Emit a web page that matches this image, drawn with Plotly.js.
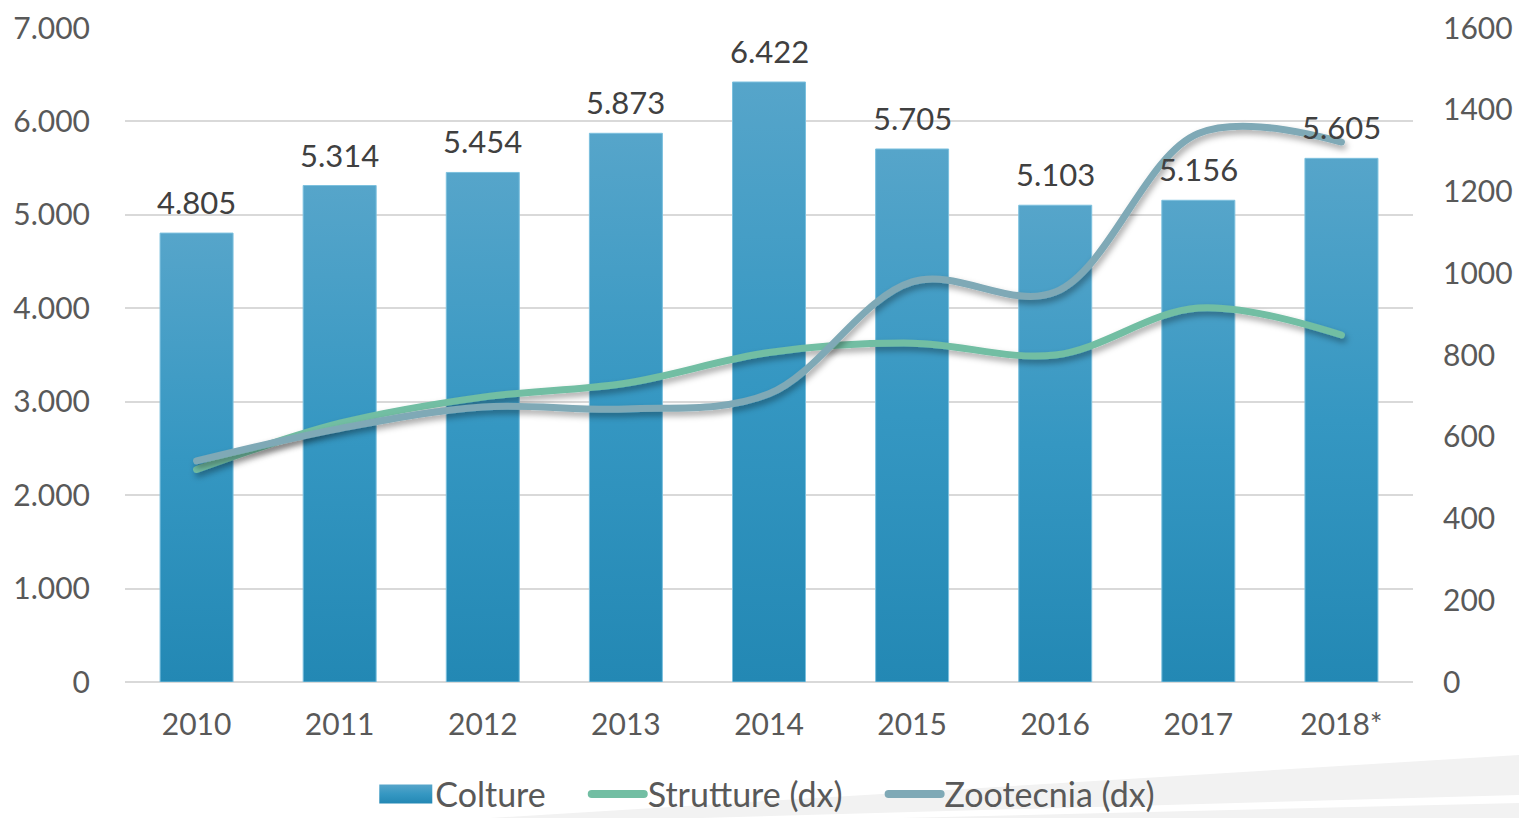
<!DOCTYPE html>
<html>
<head>
<meta charset="utf-8">
<script src="https://cdn.plot.ly/plotly-3.0.1.min.js"></script>
<style>
html,body{margin:0;padding:0;background:#fff;}
#chart{width:1519px;height:818px;}
</style>
</head>
<body>
<div id="chart"></div>
<script>
// ---- data ----
var years = ['2010','2011','2012','2013','2014','2015','2016','2017','2018*'];
var colture = [4805, 5314, 5454, 5873, 6422, 5705, 5103, 5156, 5605];
var strutture = [520, 633, 697, 731, 806, 829, 800, 915, 849];
var zootecnia = [541, 620, 673, 668, 705, 979, 954, 1342, 1321];
var leftTicks = [0, 1000, 2000, 3000, 4000, 5000, 6000, 7000];
var rightTicks = [0, 200, 400, 600, 800, 1000, 1200, 1400, 1600];

var FONT = 'Lato, "Open Sans", sans-serif';
var TXT = '#595959';

function fmtIt(v){ return String(v).replace(/\B(?=(\d{3})+(?!\d))/g, '.'); }

var traces = [
  {
    type: 'bar', name: 'Colture', x: years, y: colture,
    marker: {color: '#3697c1', line: {color: '#7cc0de', width: 1}},
    yaxis: 'y'
  },
  {
    type: 'scatter', mode: 'lines', name: 'Strutture (dx)', x: years, y: strutture,
    line: {color: '#72bea3', width: 7, shape: 'spline', smoothing: 1},
    yaxis: 'y2'
  },
  {
    type: 'scatter', mode: 'lines', name: 'Zootecnia (dx)', x: years, y: zootecnia,
    line: {color: '#7fa9b6', width: 7, shape: 'spline', smoothing: 1},
    yaxis: 'y2'
  }
];

// category axis: annotations positioned by category index
var annotations = years.map(function(yr, i){
  return {
    x: i, y: colture[i], xref: 'x', yref: 'y',
    text: fmtIt(colture[i]), showarrow: false,
    yanchor: 'bottom', yshift: 10,
    font: {family: FONT, size: 31, color: '#404040'}
  };
});

var layout = {
  width: 1519, height: 818,
  margin: {l: 125, r: 106, t: 28, b: 136, autoexpand: false},
  paper_bgcolor: '#ffffff', plot_bgcolor: '#ffffff',
  separators: ',.',
  font: {family: FONT, color: TXT, size: 30},
  showlegend: true,
  bargap: 0.49,
  hovermode: false,
  xaxis: {
    type: 'category', categoryarray: years, categoryorder: 'array',
    range: [-0.5, years.length - 0.5],
    showgrid: false, zeroline: false, showline: false,
    ticks: 'outside', ticklen: 16, tickcolor: 'rgba(0,0,0,0)',
    tickfont: {family: FONT, size: 30, color: TXT}
  },
  yaxis: {
    range: [0, 7000], tickvals: leftTicks, tickformat: ',d',
    showgrid: true, gridcolor: '#d9d9d9', gridwidth: 2,
    zeroline: true, zerolinecolor: '#d9d9d9', zerolinewidth: 2,
    showline: false, ticks: 'outside', ticklen: 28, tickcolor: 'rgba(0,0,0,0)',
    tickfont: {family: FONT, size: 30, color: TXT}
  },
  yaxis2: {
    range: [0, 1600], tickvals: rightTicks, tickformat: 'd',
    overlaying: 'y', side: 'right', showgrid: false, zeroline: false, showline: false,
    ticks: 'outside', ticklen: 23, tickcolor: 'rgba(0,0,0,0)',
    tickfont: {family: FONT, size: 30, color: TXT}
  },
  legend: {
    orientation: 'h', x: 0.5, xanchor: 'center', y: -0.172, yanchor: 'middle',
    font: {family: FONT, size: 34, color: TXT},
    bgcolor: 'rgba(0,0,0,0)'
  },
  annotations: annotations,
  shapes: [
    {type: 'path', xref: 'paper', yref: 'paper', layer: 'below',
     path: 'M 0.283 -0.208 L 1.083 -0.1116 L 1.083 -0.208 Z',
     fillcolor: '#f2f2f2', line: {width: 0}},
    {type: 'path', xref: 'paper', yref: 'paper', layer: 'below',
     path: 'M 0.4464 -0.208 L 1.083 -0.1728 L 1.083 -0.185 L 0.6017 -0.208 Z',
     fillcolor: '#ffffff', line: {width: 0}}
  ]
};

Plotly.newPlot('chart', traces, layout, {staticPlot: true, displayModeBar: false}).then(function(gd){
  var svg = gd.querySelector('svg.main-svg');
  var ns = 'http://www.w3.org/2000/svg';
  var defs = svg.querySelector('defs') || svg.insertBefore(document.createElementNS(ns, 'defs'), svg.firstChild);
  var lg = document.createElementNS(ns, 'linearGradient');
  lg.setAttribute('id', 'barGrad');
  lg.setAttribute('x1', '0'); lg.setAttribute('y1', '0');
  lg.setAttribute('x2', '0'); lg.setAttribute('y2', '1');
  [['0', '#56a5ca'], ['0.5', '#3597c2'], ['1', '#2388b4']].forEach(function(s){
    var st = document.createElementNS(ns, 'stop');
    st.setAttribute('offset', s[0]); st.setAttribute('stop-color', s[1]);
    lg.appendChild(st);
  });
  defs.appendChild(lg);
  var f = document.createElementNS(ns, 'filter');
  f.setAttribute('id', 'lineShadow');
  f.setAttribute('x', '-10%'); f.setAttribute('y', '-50%');
  f.setAttribute('width', '120%'); f.setAttribute('height', '200%');
  var ds = document.createElementNS(ns, 'feDropShadow');
  ds.setAttribute('dx', '2'); ds.setAttribute('dy', '4');
  ds.setAttribute('stdDeviation', '3');
  ds.setAttribute('flood-color', '#000'); ds.setAttribute('flood-opacity', '0.35');
  f.appendChild(ds);
  defs.appendChild(f);
  gd.querySelectorAll('.barlayer .point path').forEach(function(p){
    p.style.fill = 'url(#barGrad)';
  });
  gd.querySelectorAll('.scatterlayer .js-line').forEach(function(p){
    p.style.filter = 'url(#lineShadow)';
    p.style.strokeLinecap = 'round';
  });

  // legend symbols: wide box / long lines, and custom spacing
  var legend = gd.querySelector('.infolayer .legend');
  if (!legend) return;
  var items = Array.prototype.slice.call(legend.querySelectorAll('g.traces'));
  items.forEach(function(it){
    var ln = it.querySelector('.legendlines path');
    if (ln) {
      ln.setAttribute('d', 'M-16,0H36');
      ln.style.strokeWidth = '8px';
      ln.style.strokeLinecap = 'round';
    } else {
      var paths = Array.prototype.slice.call(it.querySelectorAll('.legendpoints path, path.legendbar'));
      if (!paths.length) {
        paths = Array.prototype.slice.call(it.querySelectorAll('path')).filter(function(p){
          return !p.closest('.legendlines');
        });
      }
      paths.forEach(function(bar){
        bar.setAttribute('d', 'M-36,-9.5H17V9.5H-36Z');
        bar.style.fill = 'url(#barGrad)';
        bar.style.stroke = 'none';
      });
    }
  });
  var sb = legend.querySelector('.scrollbox');
  if (sb) sb.removeAttribute('clip-path');
  legend.removeAttribute('clip-path');
  var bg = legend.querySelector('.bg');
  if (bg) bg.style.display = 'none';
  var gap = 62, x = 0, widths = [];
  items.forEach(function(it){
    widths.push(it.querySelector('.legendtext').getBBox().width);
  });
  var ys = items.map(function(it){
    var m = /translate\(\s*[-\d.]+[ ,]+([-\d.]+)/.exec(it.getAttribute('transform') || '');
    return m ? parseFloat(m[1]) : 0;
  });
  var starts = [];
  items.forEach(function(it, i){ starts.push(x); x += 40 + widths[i] + gap; });
  var total = x - gap + 16;
  items.forEach(function(it, i){ it.setAttribute('transform', 'translate(' + starts[i] + ',' + ys[i] + ')'); });
  var lm = /translate\(\s*([-\d.]+)[ ,]+([-\d.]+)/.exec(legend.getAttribute('transform'));
  var centerX = 125 + 1288 / 2 - 2;
  legend.setAttribute('transform', 'translate(' + (centerX - total / 2 + 16) + ',' + (lm ? lm[2] : 780) + ')');
});
</script>
</body>
</html>
